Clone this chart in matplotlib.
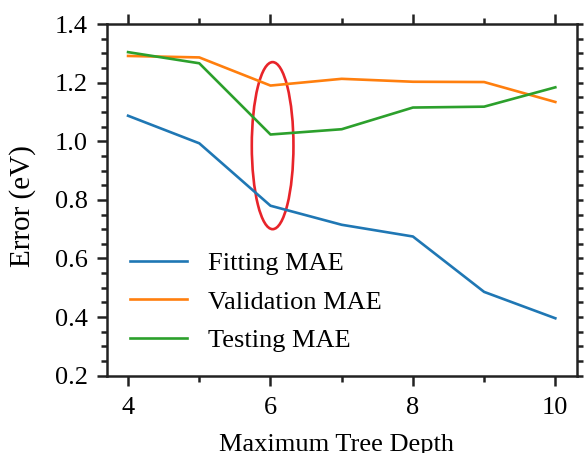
import matplotlib.pyplot as plt
from matplotlib.patches import Ellipse
from matplotlib.ticker import MultipleLocator

plt.rcParams['font.family'] = ['Liberation Serif', 'DejaVu Serif']
plt.rcParams['mathtext.fontset'] = 'stix'

depth = [4, 5, 6, 7, 8, 9, 10]
fitting_mae = [1.087, 0.993, 0.780, 0.715, 0.675, 0.486, 0.396]
validation_mae = [1.291, 1.286, 1.190, 1.213, 1.203, 1.202, 1.134]
testing_mae = [1.304, 1.266, 1.023, 1.041, 1.115, 1.118, 1.184]

fs = 19

fig = plt.figure(figsize=(5.85, 4.53), dpi=100)
ax = fig.add_axes([0.1824, 0.1706, 0.8034, 0.7764])

ax.plot(depth, fitting_mae, color='#1f77b4', lw=1.9, label='Fitting MAE')
ax.plot(depth, validation_mae, color='#ff7f0e', lw=1.9, label='Validation MAE')
ax.plot(depth, testing_mae, color='#2ca02c', lw=1.9, label='Testing MAE')

# highlight the chosen depth
ax.add_patch(Ellipse((6.03, 0.985), 0.585, 0.57, fill=False,
                     edgecolor='#e8242a', lw=1.9))

ax.set_xlim(3.7, 10.3)
ax.set_ylim(0.2, 1.4)
ax.xaxis.set_major_locator(MultipleLocator(2))
ax.xaxis.set_minor_locator(MultipleLocator(1))
ax.yaxis.set_major_locator(MultipleLocator(0.2))
ax.yaxis.set_minor_locator(MultipleLocator(0.05))
ax.yaxis.set_major_formatter(plt.FormatStrFormatter('%.1f'))

for s in ax.spines.values():
    s.set_linewidth(1.8)
    s.set_color('#222222')

ax.tick_params(which='both', direction='out', width=1.8, color='#222222',
               labelsize=fs, top=True, right=True, pad=6)
ax.tick_params(axis='x', pad=8)
ax.tick_params(which='major', length=7.5)
ax.tick_params(which='minor', length=4)
# right side ticks all share the short length
for t in ax.yaxis.get_major_ticks():
    t.tick2line.set_markersize(4.5)

ax.set_xlabel('Maximum Tree Depth', fontsize=fs)
ax.xaxis.set_label_coords(0.49, -0.165)
ax.set_ylabel('Error (eV)', fontsize=21)
ax.yaxis.set_label_coords(-0.151, 0.483)

ax.legend(loc='lower left', bbox_to_anchor=(0.027, 0.037), frameon=False,
          fontsize=fs, handlelength=2.16, handletextpad=0.8,
          labelspacing=0.57, borderaxespad=0.0)

fig.savefig('out.png', dpi=100)
